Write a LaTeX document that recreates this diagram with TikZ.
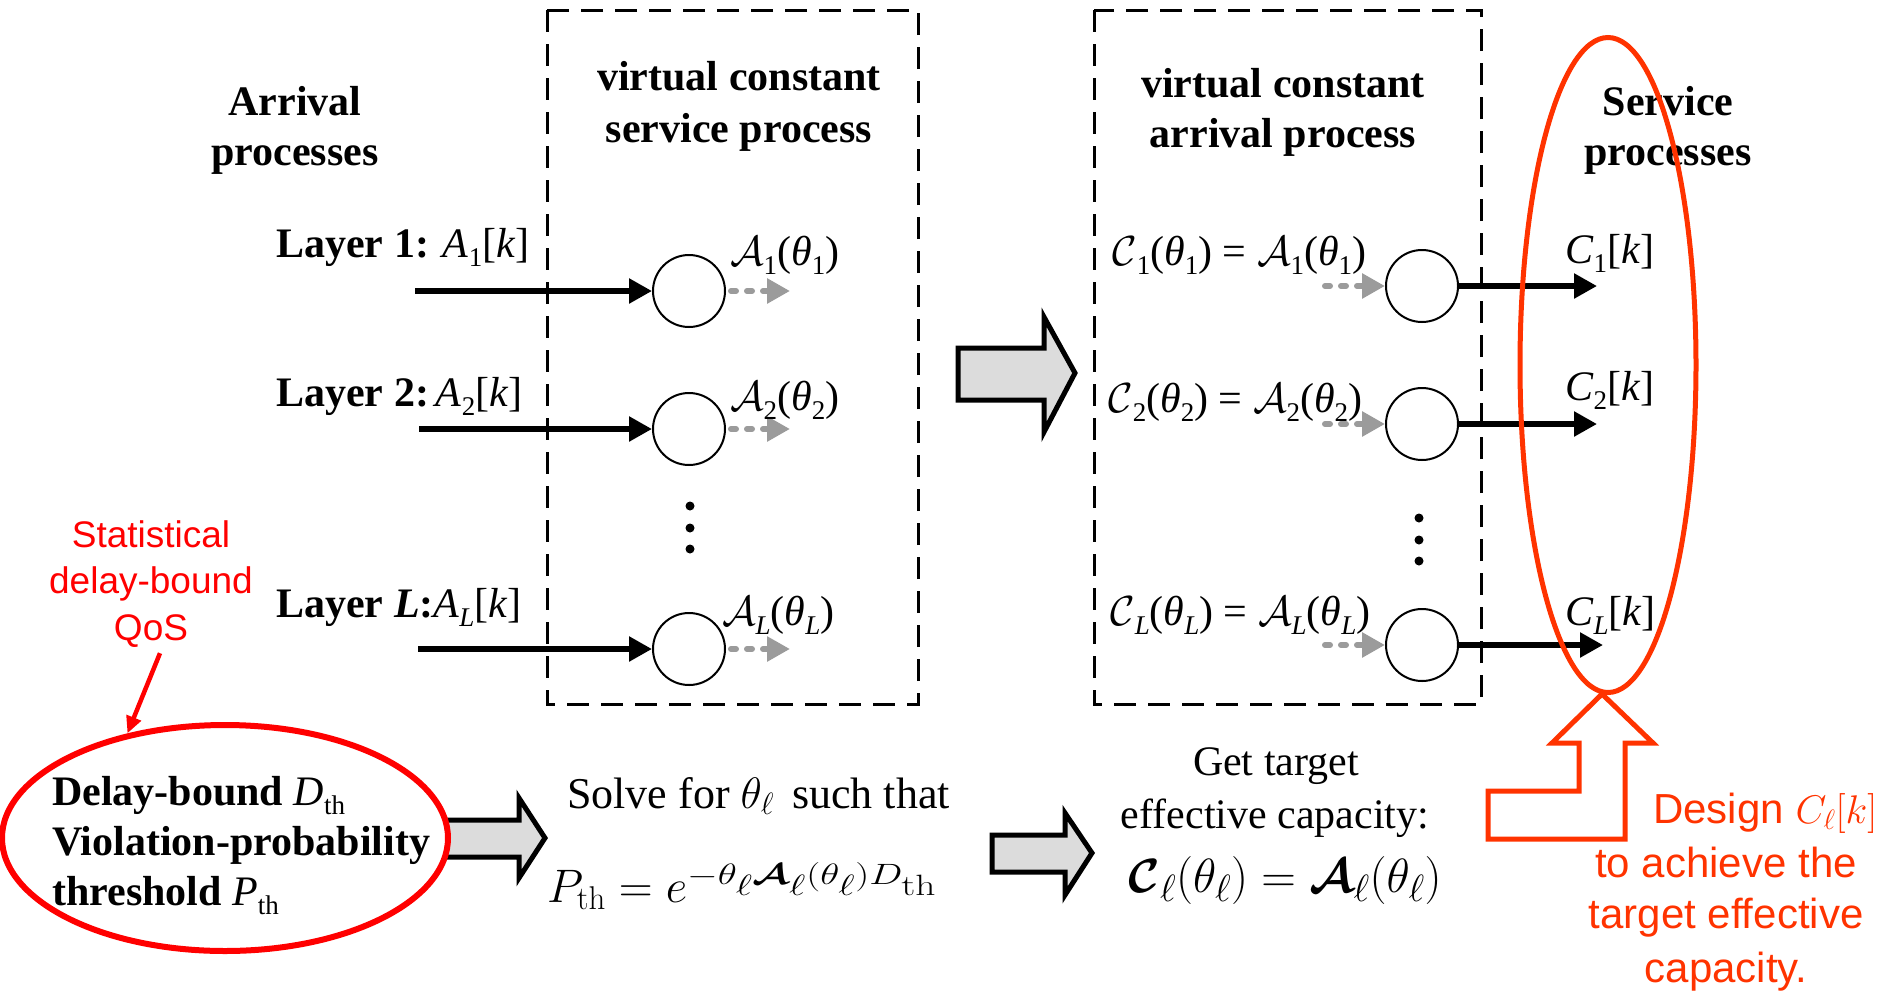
\RequirePackage{fix-cm}
\documentclass[tikz,border=0pt]{standalone}
\usepackage[no-math]{fontspec}
\usepackage{bm}
\usepackage{graphicx}
\setmainfont{Liberation Serif}
\newfontfamily\arialfont{Liberation Sans}
\usetikzlibrary{arrows.meta,shapes.geometric}

% larger script sizes for the 48pt capacity formula
\DeclareMathSizes{48}{48}{38}{30}

\definecolor{qosred}{RGB}{255,0,0}
\definecolor{dsgnred}{RGB}{255,51,0}
\definecolor{vgray}{RGB}{155,155,155}
\definecolor{bigfill}{RGB}{220,220,220}

% small upright subscript for the Times-style labels
\newcommand\sbs[1]{\raisebox{-0.22em}{\fontsize{27}{27}\selectfont #1}}
\newcommand\thet{\textit{θ}}
\newcommand\calA{$\mathcal{A}$}
\newcommand\calC{$\mathcal{C}$}

\begin{document}
\begin{tikzpicture}[x=1pt,y=-1pt,
  hd/.style={font=\fontsize{42}{50}\selectfont\bfseries, anchor=base, inner sep=0pt},
  lbl/.style={font=\fontsize{42}{50}\selectfont, anchor=base west, inner sep=0pt},
  plain/.style={font=\fontsize{42}{50}\selectfont, anchor=base, inner sep=0pt},
  qosnote/.style={font=\fontsize{37}{47}\selectfont\arialfont, text=qosred, anchor=base, inner sep=0pt},
  dsgn/.style={font=\fontsize{42}{52}\selectfont\arialfont, text=dsgnred, inner sep=0pt},
  queue/.style={circle, draw, line width=2pt, minimum size=72pt, inner sep=0pt},
  flow/.style={line width=5.5pt, -{Triangle[length=23pt,width=24pt]}},
  vflow/.style={draw=vgray, line width=6pt, line cap=round, dash pattern=on 5pt off 11pt,
                -{Triangle[length=23pt,width=24pt,fill=vgray]}},
  vbox/.style={line width=3pt, dash pattern=on 22pt off 12pt},
  bigarrow/.style={fill=bigfill, draw=black, line width=5pt, miter limit=20},
  vdot/.style={fill=black}
]
\useasboundingbox (0,0) rectangle (1888,994);

% ---------- dashed boxes ----------
\draw[vbox] (547,10) rectangle (918,704);
\draw[vbox] (1094,10) rectangle (1481,704);

% ---------- column headings ----------
\node[hd] (arr1) at (295,115) {Arrival};
\node[hd] (arr2) at (295,165) {processes};
\node[hd] (vcs1) at (739,90) {virtual constant};
\node[hd] (vcs2) at (739,142) {service process};
\node[hd] (vca1) at (1283,97) {virtual constant};
\node[hd] (vca2) at (1283,147) {arrival process};
\node[hd] (srv1) at (1668,115) {Service};
\node[hd] (srv2) at (1668,165) {processes};

% ---------- left column: arrival flows into queues ----------
\node[queue] (q1) at (689,291) {};
\node[queue] (q2) at (689,429) {};
\node[queue] (qL) at (689,649) {};

\coordinate (s1) at (415,291);
\coordinate (s2) at (419,429);
\coordinate (sL) at (418,649);
\draw[flow] (s1) -- (q1);
\draw[flow] (s2) -- (q2);
\draw[flow] (sL) -- (qL);

\coordinate (g1) at (790,291);
\coordinate (g2) at (790,429);
\coordinate (gL) at (790,649);
\draw[vflow] ([xshift=5pt]q1.east) -- (g1);
\draw[vflow] ([xshift=5pt]q2.east) -- (g2);
\draw[vflow] ([xshift=5pt]qL.east) -- (gL);

\node[lbl] (lay1) at (276,257) {\textbf{Layer 1:} \textit{A}\sbs{1}[\textit{k}]};
\node[lbl] (lay2) at (276,406) {\textbf{Layer 2:}\,\textit{A}\sbs{2}[\textit{k}]};
\node[lbl] (layL) at (276,617) {\textbf{Layer \textit{L}:}\textit{A}\sbs{\textit{L}}[\textit{k}]};

\node[lbl] (va1) at (730,265) {\calA\sbs{1}(\thet\sbs{1})};
\node[lbl] (va2) at (730,410) {\calA\sbs{2}(\thet\sbs{2})};
\node[lbl] (vaL) at (722,625) {\calA\sbs{\textit{L}}(\thet\sbs{\textit{L}})};

\fill[vdot] (690,506) circle (4.5);
\fill[vdot] (690,528) circle (4.5);
\fill[vdot] (690,549) circle (4.5);

% ---------- middle transform arrow ----------
\draw[bigarrow] (958,348) -- (1044,348) -- (1044,317) -- (1075,373)
  -- (1044,432) -- (1044,400) -- (958,400) -- cycle;

% ---------- right column: virtual arrivals into service queues ----------
\node[queue] (r1) at (1422,286) {};
\node[queue] (r2) at (1422,424) {};
\node[queue] (rL) at (1422,645) {};

\coordinate (h1) at (1325,286);
\coordinate (h2) at (1325,424);
\coordinate (hL) at (1325,645);
\draw[vflow] (h1) -- (r1);
\draw[vflow] (h2) -- (r2);
\draw[vflow] (hL) -- (rL);

\coordinate (t1) at (1597,286);
\coordinate (t2) at (1597,424);
\coordinate (tL) at (1603,645);
\draw[flow] (r1) -- (t1);
\draw[flow] (r2) -- (t2);
\draw[flow] (rL) -- (tL);

\node[lbl] (eq1) at (1112,265) {\calC\sbs{1}(\thet\sbs{1}) = \calA\sbs{1}(\thet\sbs{1})};
\node[lbl] (eq2) at (1108,412) {\calC\sbs{2}(\thet\sbs{2}) = \calA\sbs{2}(\thet\sbs{2})};
\node[lbl] (eqL) at (1110,625) {\calC\sbs{\textit{L}}(\thet\sbs{\textit{L}}) = \calA\sbs{\textit{L}}(\thet\sbs{\textit{L}})};

\node[lbl] (c1) at (1565,263) {\textit{C}\sbs{1}[\textit{k}]};
\node[lbl] (c2) at (1565,400) {\textit{C}\sbs{2}[\textit{k}]};
\node[lbl] (cL) at (1565,625) {\textit{C}\sbs{\textit{L}}[\textit{k}]};

\fill[vdot] (1419,518) circle (4.5);
\fill[vdot] (1419,540) circle (4.5);
\fill[vdot] (1419,561) circle (4.5);

% ---------- service-process ellipse and design arrow ----------
\node[ellipse, draw=dsgnred, line width=5pt, minimum width=176pt, minimum height=655pt,
      inner sep=0pt] (svc) at (1608,365) {};
\draw[draw=dsgnred, line width=5pt, miter limit=20]
  (1602,694) -- (1653,743) -- (1625,743) -- (1625,839) -- (1488,839)
  -- (1488,791) -- (1579,791) -- (1579,743) -- (1552,743) -- cycle;

\node[dsgn, anchor=base west] (dz1) at (1653,823)
  {Design {\fontsize{40}{42}\selectfont$C_\ell[k]$}};
\node[dsgn, anchor=base] (dz2) at (1726,877) {to achieve the};
\node[dsgn, anchor=base] (dz3) at (1726,928) {target effective};
\node[dsgn, anchor=base] (dz4) at (1726,982) {capacity.};

% ---------- QoS requirement ----------
\node[qosnote] (st1) at (151,547) {Statistical};
\node[qosnote] (st2) at (151,593) {delay-bound};
\node[qosnote] (qos) at (151,640) {QoS};

\draw[bigarrow] (444,820) -- (519,820) -- (519,798) -- (545,838)
  -- (519,878) -- (519,857) -- (444,857) -- cycle;

\node[ellipse, draw=qosred, fill=white, line width=6pt, minimum width=446pt,
      minimum height=226pt, inner sep=0pt] (req) at (225,838) {};
\draw[draw=qosred, line width=4.5pt, -{Triangle[length=17pt,width=15pt]}]
  ([xshift=9pt,yshift=-6pt]qos.south) -- (req.133);

\node[lbl, font=\fontsize{42}{50}\selectfont\bfseries] (rq1) at (52,805)
  {Delay-bound {\mdseries\itshape D}\sbs{\mdseries th}};
\node[lbl, font=\fontsize{42}{50}\selectfont\bfseries] (rq2) at (52,855)
  {Violation-probability};
\node[lbl, font=\fontsize{42}{50}\selectfont\bfseries] (rq3) at (52,905)
  {threshold {\mdseries\itshape P}\sbs{\mdseries th}};

% ---------- solving for the QoS exponent ----------
\node[lbl, font=\fontsize{44}{50}\selectfont] (slv) at (567,808)
  {Solve for $\theta_\ell$\, such that};
\node[lbl, font=\fontsize{47}{56}\selectfont] (pth) at (547,902)
  {$P_{\mathrm{th}} = e^{\scalebox{1.68}[1.25]{$\scriptscriptstyle -\theta_\ell \bm{\mathcal{A}}_\ell(\theta_\ell) D_{\mathrm{th}}$}}$};

\draw[bigarrow] (992,835) -- (1065,835) -- (1065,813) -- (1092,853)
  -- (1065,895) -- (1065,872) -- (992,872) -- cycle;

\node[plain] (gt1) at (1276,775) {Get target};
\node[plain] (gt2) at (1275,828) {effective capacity:};
\node[plain, font=\fontsize{48}{56}\selectfont] (gt3) at (1285,892)
  {$\bm{\mathcal{C}}_\ell(\theta_\ell) = \bm{\mathcal{A}}_\ell(\theta_\ell)$};

\end{tikzpicture}
\end{document}
